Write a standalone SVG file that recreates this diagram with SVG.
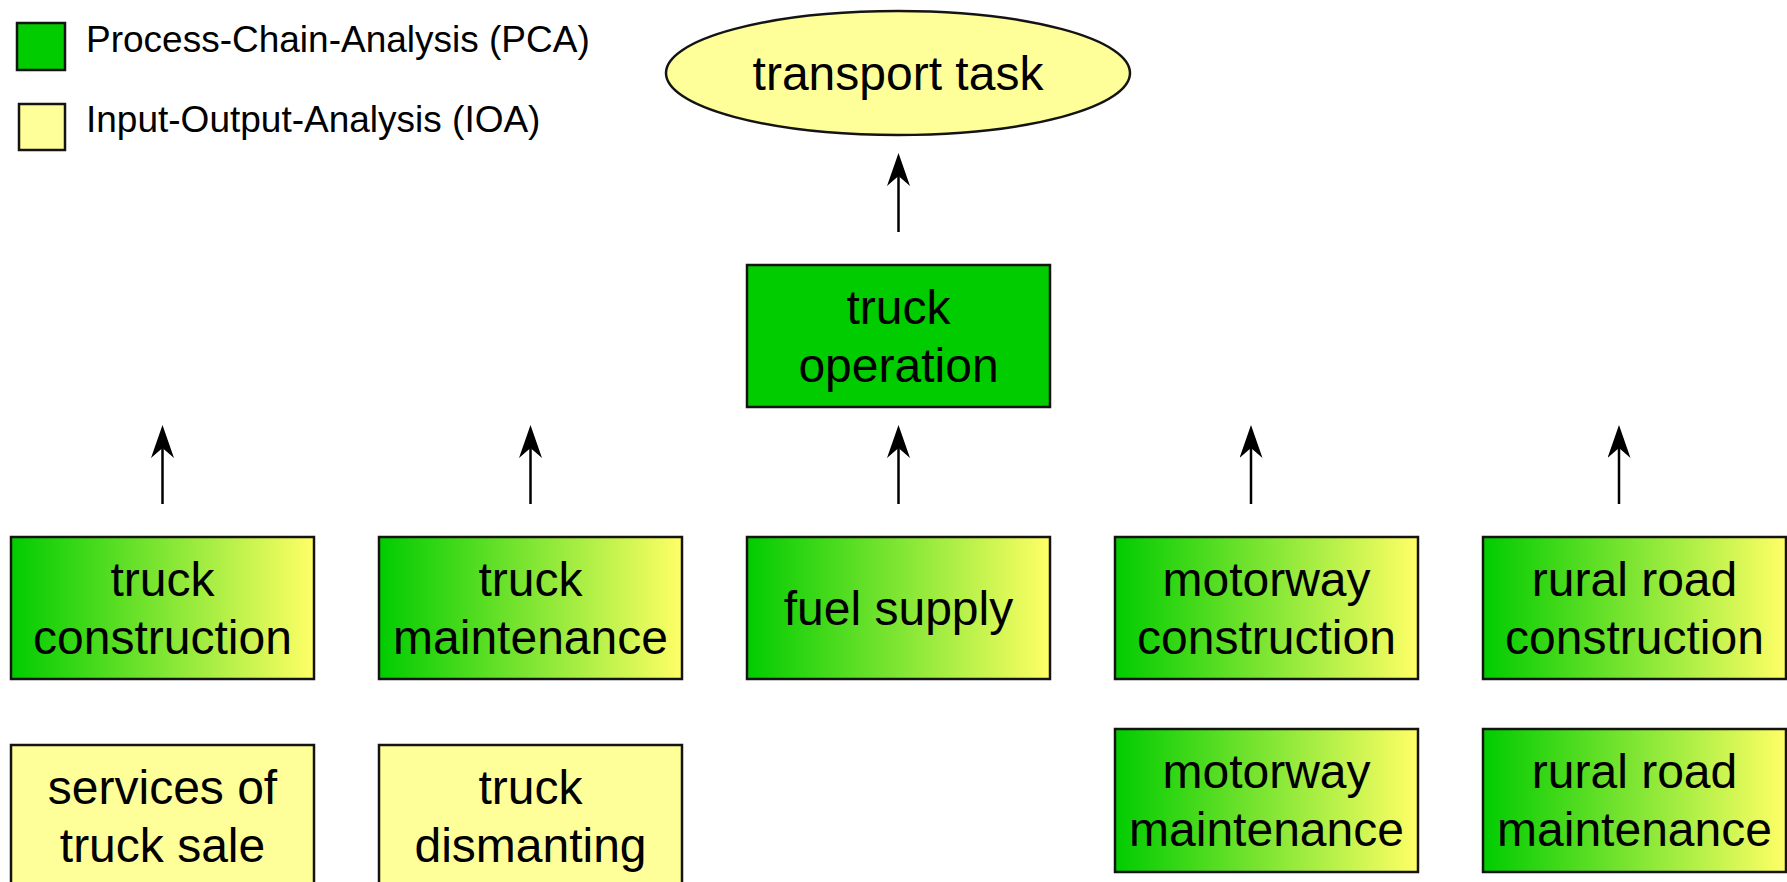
<svg xmlns="http://www.w3.org/2000/svg" width="1787" height="882" viewBox="0 0 1787 882">
  <defs>
    <linearGradient id="pcaToIoa" x1="0" y1="0" x2="1" y2="0">
      <stop offset="0" stop-color="#00cc00"/>
      <stop offset="1" stop-color="#ffff66"/>
    </linearGradient>
    <marker id="arrowHead" markerUnits="userSpaceOnUse" viewBox="0 0 33 23" refX="10" refY="11.5" markerWidth="33" markerHeight="23" orient="auto">
      <path d="M33,11.5 L0,0 L10,11.5 L0,23 Z" fill="#000"/>
    </marker>
    <style>
      .box { stroke: #141414; stroke-width: 2.5; }
      .pca { fill: #00cc00; }
      .ioa { fill: #ffff99; }
      .mix { fill: url(#pcaToIoa); }
      .label { font-family: "Liberation Sans", Arial, sans-serif; font-size: 48px; fill: #000; text-anchor: middle; }
      .legend { font-family: "Liberation Sans", Arial, sans-serif; font-size: 37px; fill: #000; }
      .conn { stroke: #000; stroke-width: 2.5; fill: none; marker-end: url(#arrowHead); }
    </style>
  </defs>

  <rect width="1787" height="882" fill="#fff"/>

  <!-- legend -->
  <g id="legend">
    <rect class="box pca" x="17" y="23" width="48" height="47"/>
    <text class="legend" x="86" y="52">Process-Chain-Analysis (PCA)</text>
    <rect class="box ioa" x="19" y="104" width="46" height="46"/>
    <text class="legend" x="86" y="132">Input-Output-Analysis (IOA)</text>
  </g>

  <!-- connectors -->
  <g id="connectors">
    <line class="conn" x1="898.5" y1="232" x2="898.5" y2="176"/>
    <line class="conn" x1="162.5" y1="504" x2="162.5" y2="448"/>
    <line class="conn" x1="530.5" y1="504" x2="530.5" y2="448"/>
    <line class="conn" x1="898.5" y1="504" x2="898.5" y2="448"/>
    <line class="conn" x1="1251" y1="504" x2="1251" y2="448"/>
    <line class="conn" x1="1619" y1="504" x2="1619" y2="448"/>
  </g>

  <!-- goal -->
  <g id="transport-task">
    <ellipse class="box ioa" cx="898" cy="73" rx="232" ry="62"/>
    <text class="label" x="898" y="90">transport task</text>
  </g>

  <g id="truck-operation">
    <rect class="box pca" x="747" y="265" width="303" height="142"/>
    <text class="label" x="898.5" y="323.5">truck</text>
    <text class="label" x="898.5" y="381.5">operation</text>
  </g>

  <!-- first row of inputs -->
  <g id="truck-construction">
    <rect class="box mix" x="11" y="537" width="303" height="142"/>
    <text class="label" x="162.5" y="595.5">truck</text>
    <text class="label" x="162.5" y="653.5">construction</text>
  </g>

  <g id="truck-maintenance">
    <rect class="box mix" x="379" y="537" width="303" height="142"/>
    <text class="label" x="530.5" y="595.5">truck</text>
    <text class="label" x="530.5" y="653.5">maintenance</text>
  </g>

  <g id="fuel-supply">
    <rect class="box mix" x="747" y="537" width="303" height="142"/>
    <text class="label" x="898.5" y="625">fuel supply</text>
  </g>

  <g id="motorway-construction">
    <rect class="box mix" x="1115" y="537" width="303" height="142"/>
    <text class="label" x="1266.5" y="595.5">motorway</text>
    <text class="label" x="1266.5" y="653.5">construction</text>
  </g>

  <g id="rural-road-construction">
    <rect class="box mix" x="1483" y="537" width="303" height="142"/>
    <text class="label" x="1634.5" y="595.5">rural road</text>
    <text class="label" x="1634.5" y="653.5">construction</text>
  </g>

  <!-- second row -->
  <g id="services-of-truck-sale">
    <rect class="box ioa" x="11" y="745" width="303" height="143"/>
    <text class="label" x="162.5" y="803.5">services of</text>
    <text class="label" x="162.5" y="861.5">truck sale</text>
  </g>

  <g id="truck-dismanting">
    <rect class="box ioa" x="379" y="745" width="303" height="143"/>
    <text class="label" x="530.5" y="803.5">truck</text>
    <text class="label" x="530.5" y="861.5">dismanting</text>
  </g>

  <g id="motorway-maintenance">
    <rect class="box mix" x="1115" y="729" width="303" height="143"/>
    <text class="label" x="1266.5" y="788">motorway</text>
    <text class="label" x="1266.5" y="846">maintenance</text>
  </g>

  <g id="rural-road-maintenance">
    <rect class="box mix" x="1483" y="729" width="303" height="143"/>
    <text class="label" x="1634.5" y="788">rural road</text>
    <text class="label" x="1634.5" y="846">maintenance</text>
  </g>
</svg>
